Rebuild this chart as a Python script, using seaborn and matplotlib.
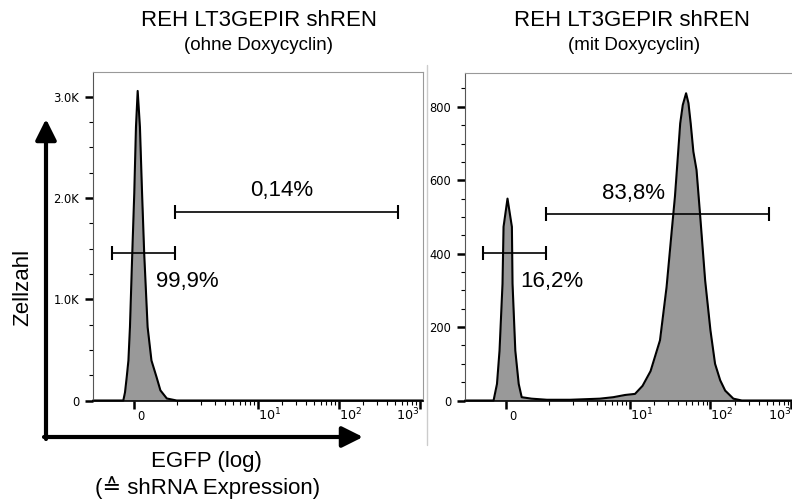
import matplotlib
matplotlib.use("Agg")
import matplotlib.pyplot as plt
import seaborn as sns
from matplotlib.patches import FancyArrowPatch
from matplotlib.lines import Line2D
from matplotlib.transforms import ScaledTranslation

# EGFP intensity (biexponential-like axis) and cell counts
left_x = [-0.96, -0.25, -0.21, -0.17, -0.13, -0.094, -0.04, 0.007, 0.047, 0.087,
          0.14, 0.19, 0.24, 0.32, 0.41, 0.53, 0.62, 0.77, 1.0, 1089]
left_counts = [0, 0, 80, 230, 395, 725, 1450, 2045, 2700, 3056,
               2700, 2045, 1450, 725, 395, 230, 100, 20, 0, 0]

right_x = [-0.96, -0.29, -0.21, -0.15, -0.08, -0.056, 0.037, 0.14, 0.155, 0.22,
           0.30, 0.37, 0.6, 0.96, 1.85, 4.3, 6.3, 8.8, 11.7, 14.5, 18.2, 23.8,
           28.7, 33.3, 36.4, 39.0, 42.3, 45.5, 50, 53.5, 57, 61.5, 67.3, 74.3,
           86, 100, 114, 132, 152, 192, 244, 1089]
right_counts = [0, 0, 45, 136, 318, 473, 550, 473, 318, 136,
                45, 9, 5, 2, 2, 5, 9, 15, 18, 40, 80, 164,
                309, 464, 555, 646, 755, 805, 837, 810, 755, 678, 628, 509,
                327, 191, 100, 55, 27, 5, 0, 0]

# gates: (low, high, height)
left_gates = [(-0.52, 0.95, 1456), (0.95, 540, 1858)]
left_gate_labels = ["99,9%", "0,14%"]
left_label_pos = [(1.34, 1176), (20, 2075)]
right_gates = [(-0.54, 0.95, 402), (0.95, 534, 507)]
right_gate_labels = ["16,2%", "83,8%"]
right_label_pos = [(1.09, 323), (11.1, 565)]

x_ticks = [0, 10, 100, 1000]
x_ticklabels = ["0", "$10^{1}$", "$10^{2}$", "$10^{3}$"]
x_minor = [m * 10 ** k for k in range(3) for m in range(2, 10) if m * 10 ** k < 1000] + [1]

left_yticks = [0, 1000, 2000, 3000]
left_yticklabels = ["0", "1.0K", "2.0K", "3.0K"]
left_yminor = [250, 500, 750, 1250, 1500, 1750, 2250, 2500, 2750]
right_yticks = [0, 200, 400, 600, 800]
right_yticklabels = ["0", "200", "400", "600", "800"]
right_yminor = [50, 100, 150, 250, 300, 350, 450, 500, 550, 650, 700, 750, 850]

sns.set_style("ticks")
plt.rcParams["font.family"] = ["DejaVu Sans"]
plt.rcParams["text.color"] = "black"
plt.rcParams["xtick.color"] = "black"
plt.rcParams["ytick.color"] = "black"
plt.rcParams["mathtext.fontset"] = "dejavusans"
SANS = ["Liberation Sans", "DejaVu Sans"]

W, H = 792, 501
fig = plt.figure(figsize=(W / 100, H / 100), dpi=100)


def px_rect(l, t, r, b):
    return [l / W, 1 - b / H, (r - l) / W, (b - t) / H]


def draw_panel(ax, xs, ys, ymax, yticks, ylabels, yminor, gates, glabels, gpos):
    ax.set_xscale("symlog", linthresh=1, linscale=0.474)
    ax.fill_between(xs, ys, color="#999999", lw=0)
    sns.lineplot(x=xs, y=ys, ax=ax, color="black", lw=1.5, clip_on=False)
    ax.set_xlim(-0.96, 1089)
    ax.set_ylim(0, ymax)

    ax.set_xticks(x_ticks, labels=x_ticklabels)
    ax.set_xticks(x_minor, minor=True)
    ax.set_yticks(yticks, labels=ylabels)
    ax.set_yticks(yminor, minor=True)
    ax.tick_params(which="both", bottom=True, left=True, top=False, right=False)
    ax.tick_params(which="major", direction="out", length=6, width=1.8,
                   labelsize=8.3, color="black", labelcolor="black")
    ax.tick_params(which="minor", direction="out", length=3, width=0.8,
                   color="black")
    ax.tick_params(axis="x", which="major", pad=8.4, labelsize=9.2)
    ax.tick_params(axis="y", which="major", pad=4)
    for t in ax.get_xticklabels():
        t.set_va("baseline")
        t.set_ha("left")
        if t.get_text() == "0":
            t.set_fontsize(8.3)
            t.set_transform(t.get_transform() + ScaledTranslation(2.5 / 72, 0, fig.dpi_scale_trans))
        elif t.get_text() == x_ticklabels[-1]:
            t.set_ha("right")

    for s in ["top", "right"]:
        ax.spines[s].set_visible(True)
        ax.spines[s].set_color("#999999")
        ax.spines[s].set_linewidth(0.8)
    ax.spines["left"].set_color("#555555")
    ax.spines["left"].set_linewidth(0.8)
    ax.spines["bottom"].set_color("black")
    ax.spines["bottom"].set_linewidth(1.2)

    for (x0, x1, y), lab, (lx, ly) in zip(gates, glabels, gpos):
        ax.plot([x0, x1], [y, y], color="black", lw=1.2, marker="|", ms=10, mew=1.5)
        ax.text(lx, ly, lab, ha="center", va="center", fontsize=16, family=SANS)
    ax.set_xlabel("")
    ax.set_ylabel("")


ax1 = fig.add_axes(px_rect(93, 72.3, 422.7, 400.5))
draw_panel(ax1, left_x, left_counts, 3240, left_yticks, left_yticklabels, left_yminor,
           left_gates, left_gate_labels, left_label_pos)
ax2 = fig.add_axes(px_rect(465, 72.7, 794.4, 400.5))
draw_panel(ax2, right_x, right_counts, 893, right_yticks, right_yticklabels, right_yminor,
           right_gates, right_gate_labels, right_label_pos)


def ftext(x, y, s, **kw):
    fig.text(x / W, 1 - y / H, s, ha="center", va="center", family=SANS, **kw)


ftext(259, 21, "REH LT3GEPIR shREN", fontsize=16)
ftext(258, 45, "(ohne Doxycyclin)", fontsize=13.5)
ftext(632.5, 21, "REH LT3GEPIR shREN", fontsize=16)
ftext(634, 45, "(mit Doxycyclin)", fontsize=13.5)
ftext(23, 287, "Zellzahl", fontsize=16, rotation=90)
ftext(206, 462, "EGFP (log)", fontsize=16)
ftext(207.5, 488, "(\u2259 shRNA Expression)", fontsize=16)

# separator between the two panels
fig.add_artist(Line2D([427 / W, 427 / W], [1 - 65 / H, 1 - 445 / H],
                      transform=fig.transFigure, color="#cccccc", lw=1))

# axis arrows
for a, b in [((46, 439), (46, 119)), ((44, 437), (363, 437))]:
    fig.add_artist(FancyArrowPatch((a[0] / W, 1 - a[1] / H), (b[0] / W, 1 - b[1] / H),
                                   transform=fig.transFigure,
                                   arrowstyle="-|>,head_length=0.7,head_width=0.35",
                                   mutation_scale=18, lw=3, color="black",
                                   shrinkA=0, shrinkB=0))

fig.savefig("out.png", dpi=100)
